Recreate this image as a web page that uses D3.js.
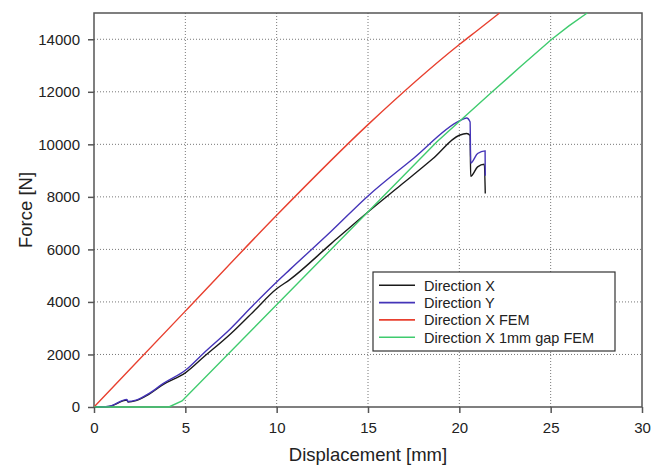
<!DOCTYPE html>
<html>
<head>
<meta charset="utf-8">
<script src="https://cdn.jsdelivr.net/npm/d3@7"></script>
<style>
  body { margin: 0; background: #fff; }
  svg text { font-family: "Liberation Sans", Arial, sans-serif; fill: #222; }
</style>
</head>
<body>
<svg id="chart" width="667" height="465"></svg>
<script>
// measured curves, [displacement mm, force N]
const dirX = [[0,0],[0.8,20],[1.8,260],[1.86,190],[2.3,240],[3,480],[3.8,860],[5,1300],[6,1900],[7.5,2800],[8.75,3650],[10,4500],
  [10.72,4850],[13,6230],[15,7425],[16.8,8450],[18.56,9460],[20,10345],[20.4,10410],[20.59,10340],[20.62,8785],[21,9140],[21.37,9240],[21.42,8125]];
const dirY = [[0,0],[0.8,20],[1.8,290],[1.86,210],[2.3,260],[3,510],[3.8,900],[5,1400],[6,2050],[7.5,3000],[8.75,3900],[10,4760],
  [10.72,5230],[13,6700],[15,8035],[17.5,9470],[20,10890],[20.4,11005],[20.59,10850],[20.62,9290],[21,9650],[21.41,9750],[21.42,8800]];
const dirXFem = [[0,0],[5,3650],[10,7300],[15,10750],[20,13800],[21,14345],[22.2,15000]];
const dirXGapFem = [[0,0],[4.1,0],[4.82,230],[18.76,10090],[20.3,11060],[21.8,12000],[23.4,12990],[25.06,14000],[26,14510],[27,15000]];

const seriesNames = ["Direction X", "Direction Y", "Direction X FEM", "Direction X 1mm gap FEM"];
const seriesColors = ["#1a1a1a", "#4434b8", "#e8402f", "#3fcb6e"];
const xTicks = [0, 5, 10, 15, 20, 25, 30];
const yTicks = [0, 2000, 4000, 6000, 8000, 10000, 12000, 14000];

const svg = d3.select("#chart");
const margin = {left: 94, right: 25, top: 13, bottom: 58};
const W = 667 - margin.left - margin.right;
const H = 465 - margin.top - margin.bottom;

const x = d3.scaleLinear().domain([0, 30]).range([0, W]);
const y = d3.scaleLinear().domain([0, 15000]).range([H, 0]);

const g = svg.append("g").attr("transform", `translate(${margin.left},${margin.top})`);

// grid
g.append("g").selectAll("line").data(xTicks.slice(1, -1)).join("line")
  .attr("x1", d => x(d)).attr("x2", d => x(d)).attr("y1", 0).attr("y2", H)
  .attr("stroke", "#777").attr("stroke-width", 1).attr("stroke-dasharray", "1,2");
g.append("g").selectAll("line").data(yTicks.slice(1)).join("line")
  .attr("x1", 0).attr("x2", W).attr("y1", d => y(d)).attr("y2", d => y(d))
  .attr("stroke", "#777").attr("stroke-width", 1).attr("stroke-dasharray", "1,2");

// frame
g.append("rect").attr("width", W).attr("height", H)
  .attr("fill", "none").attr("stroke", "#555").attr("stroke-width", 1.5);

// curves (gap FEM has sharp kinks, so it stays linear)
const smooth = d3.line().x(d => x(d[0])).y(d => y(d[1])).curve(d3.curveMonotoneX);
const straight = d3.line().x(d => x(d[0])).y(d => y(d[1]));
const allData = [dirX, dirY, dirXFem, dirXGapFem];
g.append("defs").append("clipPath").attr("id", "clip")
  .append("rect").attr("y", -1).attr("width", W).attr("height", H + 3);
g.append("g").attr("clip-path", "url(#clip)")
  .selectAll("path").data(allData).join("path")
  .attr("d", (d, i) => i === 3 ? straight(d) : smooth(d))
  .attr("fill", "none")
  .attr("stroke", (d, i) => seriesColors[i])
  .attr("stroke-width", 1.4);

const xAxis = g.append("g").attr("transform", `translate(0,${H})`)
  .call(d3.axisBottom(x).tickValues(xTicks).tickSize(6).tickPadding(9));
const yAxis = g.append("g")
  .call(d3.axisLeft(y).tickValues(yTicks).tickFormat(d3.format("d")).tickSize(6).tickPadding(8));
[xAxis, yAxis].forEach(a => {
  a.select(".domain").remove();
  a.selectAll(".tick line").attr("stroke", "#555").attr("stroke-width", 1.5);
  a.selectAll(".tick text").attr("font-size", 15).attr("fill", "#222")
    .attr("font-family", "Liberation Sans, Arial, sans-serif");
});

svg.append("text")
  .attr("x", margin.left + W / 2).attr("y", 461)
  .attr("text-anchor", "middle").attr("font-size", 18.5)
  .text("Displacement [mm]");
svg.append("text")
  .attr("transform", `translate(32,${margin.top + H / 2}) rotate(-90)`)
  .attr("text-anchor", "middle").attr("font-size", 18.5)
  .text("Force [N]");

// legend
const lg = svg.append("g").attr("transform", "translate(373,272)");
lg.append("rect").attr("width", 242).attr("height", 79)
  .attr("fill", "#fff").attr("stroke", "#333").attr("stroke-width", 1.2);
const rows = lg.selectAll("g.row").data(seriesNames).join("g")
  .attr("class", "row")
  .attr("transform", (d, i) => `translate(0,${13.3 + i * 17.3})`);
rows.append("line").attr("x1", 6).attr("x2", 42)
  .attr("stroke", (d, i) => seriesColors[i]).attr("stroke-width", 1.6);
rows.append("text").attr("x", 51).attr("y", 5.3)
  .attr("font-size", 14.5).text(d => d);
</script>
</body>
</html>
